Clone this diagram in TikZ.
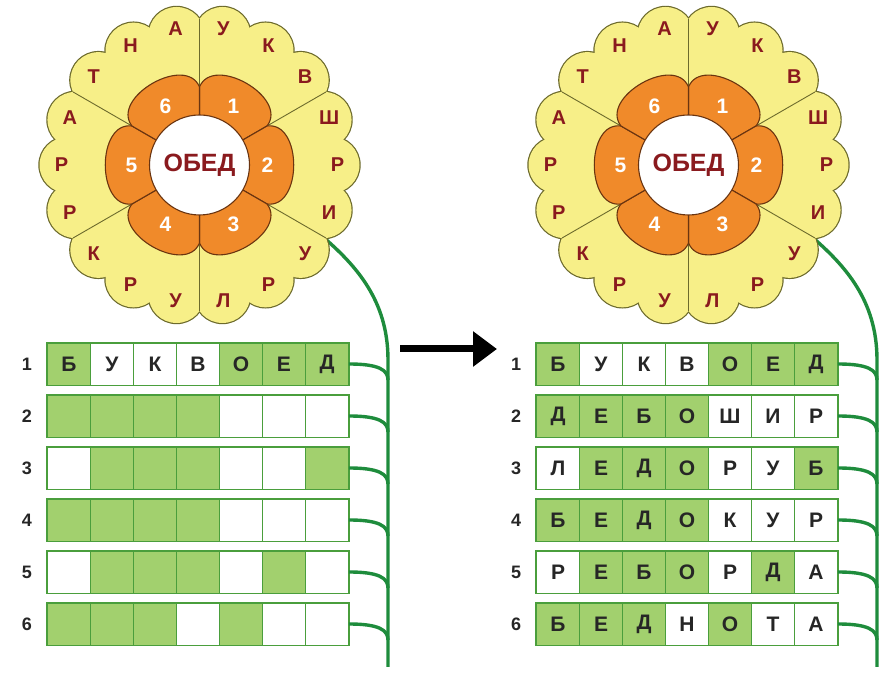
\documentclass[tikz,border=0pt]{standalone}
\usepackage{fontspec}
\setmainfont{Liberation Sans}
\usetikzlibrary{arrows.meta}

\definecolor{petalyellow}{HTML}{F7EF88}
\definecolor{petalline}{HTML}{6C6A2C}
\definecolor{coreorange}{HTML}{F08A2A}
\definecolor{coreline}{HTML}{6A3410}
\definecolor{letterred}{HTML}{8A1A1E}
\definecolor{cellgreen}{HTML}{A2D06E}
\definecolor{cellline}{HTML}{4A9E3C}
\definecolor{stemgreen}{HTML}{1E8C3C}

\tikzset{
  ringletter/.style={font=\fontsize{20}{20}\selectfont\bfseries, text=letterred},
  corenum/.style={font=\fontsize{21}{21}\selectfont\bfseries, text=white},
  core/.style={circle, fill=white, draw=coreline, line width=1.1pt, minimum size=100pt,
    font=\fontsize{25}{25}\selectfont\bfseries, text=letterred},
  rownum/.style={font=\fontsize{18}{18}\selectfont\bfseries, text=black!85},
  cell/.style={draw=cellline, line width=0.8pt, minimum width=43pt, minimum height=42pt,
    font=\fontsize{21}{21}\selectfont\bfseries, text=black!85},
  gc/.style={cell, fill=cellgreen},
  wc/.style={cell, fill=white},
  stem/.style={draw=stemgreen, line width=3.4pt},
}

\begin{document}
\begin{tikzpicture}[x=1pt, y=1pt, every node/.style={inner sep=0pt}]
  \path[use as bounding box, fill=white] (0,0) rectangle (889,676);

  % the two flowers with their stems
  \foreach \s/\cx in {l/199.5, r/688.5} {
    \begin{scope}[shift={(\cx,511)}]
      \coordinate (\s-top) at (-30:140);
      \coordinate (\s-knee) at (188.5,-195);
      \coordinate (\s-foot) at (188.5,-502);
      \draw[stem] (\s-top) .. controls +(35,-30) and +(0,60) .. (\s-knee) -- (\s-foot);

      \foreach \a in {0,20,...,340}
        \draw[petalline, line width=2.4pt] (\a:132) circle (28);
      \foreach \a in {0,20,...,340}
        \fill[petalyellow] (\a:132) circle (28);
      \fill[petalyellow] (0,0) circle (140);

      \foreach \a in {90,30,-30,-90,-150,150}
        \draw[petalline, line width=0.9pt] (\a:50) -- (\a:146);

      \foreach \a in {60,0,-60,-120,180,120}
        \draw[fill=coreorange, draw=coreline, line width=1.1pt]
          (\a-30:45) -- (\a-30:78) .. controls (\a-23:112) and (\a+23:112) .. (\a+30:78)
          -- (\a+30:45) -- cycle;

      \node[core] (\s-core) at (0,0) {ОБЕД};

      \foreach \a/\n in {60/1, 0/2, -60/3, -120/4, 180/5, 120/6}
        \node[corenum] (\s-num\n) at (\a:68) {\n};

      \foreach \a/\t [count=\i] in {80/У, 60/К, 40/В, 20/Ш, 0/Р, -20/И, -40/У, -60/Р, -80/Л,
          -100/У, -120/Р, -140/К, -160/Р, 180/Р, 160/А, 140/Т, 120/Н, 100/А}
        \node[ringletter] (\s-let\i) at (\a:138) {\t};
    \end{scope}
  }

  % left grid
  \foreach \r/\row in {
      1/{gc/Б,wc/У,wc/К,wc/В,gc/О,gc/Е,gc/Д},
      2/{gc/{},gc/{},gc/{},gc/{},wc/{},wc/{},wc/{}},
      3/{wc/{},gc/{},gc/{},gc/{},wc/{},wc/{},gc/{}},
      4/{gc/{},gc/{},gc/{},gc/{},wc/{},wc/{},wc/{}},
      5/{wc/{},gc/{},gc/{},gc/{},wc/{},gc/{},wc/{}},
      6/{gc/{},gc/{},gc/{},wc/{},gc/{},wc/{},wc/{}}} {
    \node[rownum] (l-n\r) at (27,{364-52*\r}) {\r};
    \foreach \f/\t [count=\c] in \row
      \node[\f] (l-\r-\c) at ({26+43*\c},{364-52*\r}) {\t};
    \draw[cellline, line width=1.4pt] (l-\r-1.north west) rectangle (l-\r-7.south east);
    \coordinate (l-j\r) at (388,{364-52*\r-16});
    \draw[stem] (l-\r-7.east) .. controls +(30,0) and +(0,10) .. (l-j\r);
  }

  % right grid
  \foreach \r/\row in {
      1/{gc/Б,wc/У,wc/К,wc/В,gc/О,gc/Е,gc/Д},
      2/{gc/Д,gc/Е,gc/Б,gc/О,wc/Ш,wc/И,wc/Р},
      3/{wc/Л,gc/Е,gc/Д,gc/О,wc/Р,wc/У,gc/Б},
      4/{gc/Б,gc/Е,gc/Д,gc/О,wc/К,wc/У,wc/Р},
      5/{wc/Р,gc/Е,gc/Б,gc/О,wc/Р,gc/Д,wc/А},
      6/{gc/Б,gc/Е,gc/Д,wc/Н,gc/О,wc/Т,wc/А}} {
    \node[rownum] (r-n\r) at (516,{364-52*\r}) {\r};
    \foreach \f/\t [count=\c] in \row
      \node[\f] (r-\r-\c) at ({515+43*\c},{364-52*\r}) {\t};
    \draw[cellline, line width=1.4pt] (r-\r-1.north west) rectangle (r-\r-7.south east);
    \coordinate (r-j\r) at (877,{364-52*\r-16});
    \draw[stem] (r-\r-7.east) .. controls +(30,0) and +(0,10) .. (r-j\r);
  }

  % arrow between the two halves
  \coordinate (arrowfrom) at (400,327);
  \coordinate (arrowto) at (497,327);
  \draw[line width=7pt, -{Triangle[length=24pt, width=34pt]}] (arrowfrom) -- (arrowto);
\end{tikzpicture}
\end{document}
